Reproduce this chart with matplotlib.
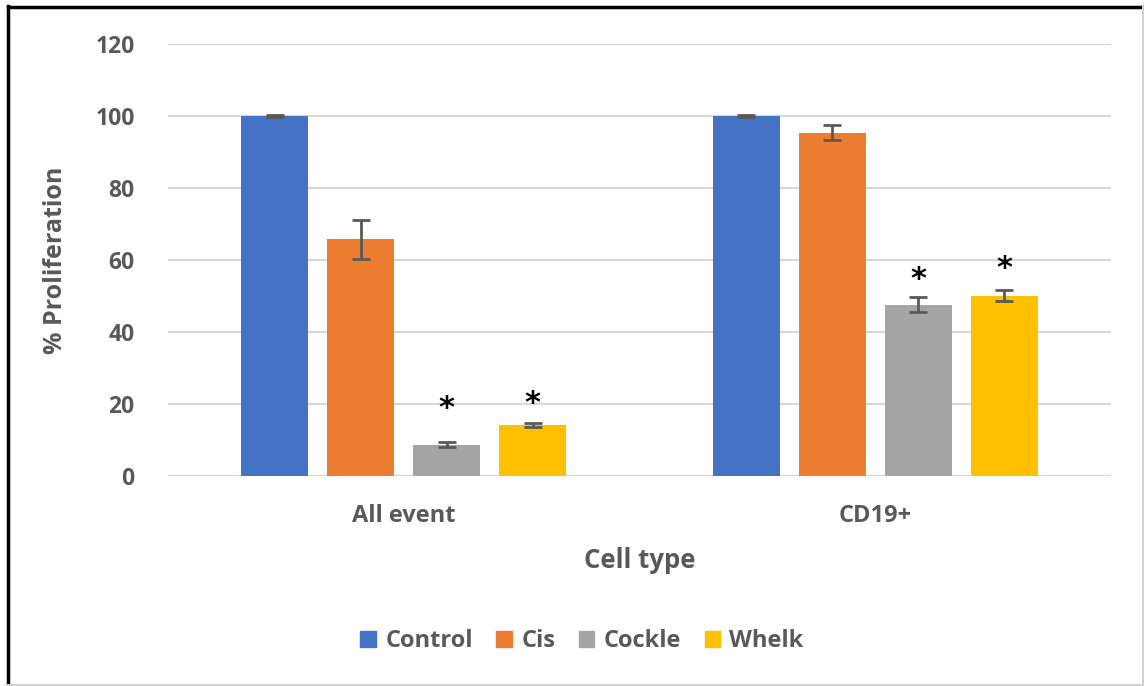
import numpy as np
import matplotlib
matplotlib.use("Agg")
import matplotlib.pyplot as plt
from matplotlib.patches import Rectangle
from matplotlib.lines import Line2D

plt.rcParams['font.family'] = ['Open Sans', 'DejaVu Sans']

cell_types = ["All event", "CD19+"]
treatments = ["Control", "Cis", "Cockle", "Whelk"]
colors = ["#4472C4", "#ED7D31", "#A5A5A5", "#FFC000"]

proliferation = {
    "Control": [100.0, 100.0],
    "Cis": [65.7, 95.4],
    "Cockle": [8.7, 47.6],
    "Whelk": [14.2, 50.1],
}
errors = {
    "Control": [0.3, 0.2],
    "Cis": [5.4, 2.2],
    "Cockle": [0.7, 2.1],
    "Whelk": [0.6, 1.5],
}
# significance markers: (treatment, cell type index, height)
stars = [("Cockle", 0, 20.5), ("Whelk", 0, 22.0),
         ("Cockle", 1, 56.5), ("Whelk", 1, 59.5)]
yticks = [0, 20, 40, 60, 80, 100, 120]

fig = plt.figure(figsize=(11.44, 6.86), dpi=100)
ax = fig.add_axes([168 / 1144, 1 - 476 / 686, (1111 - 168) / 1144, 432 / 686])

text_color = "#595959"
x = np.arange(len(cell_types))
bar_w = 0.142
step = 0.1825
offsets = (np.arange(len(treatments)) - 1.5) * step

for i, t in enumerate(treatments):
    ax.bar(x + offsets[i], proliferation[t], width=bar_w, color=colors[i],
           zorder=3, label=t)
    ax.errorbar(x + offsets[i], proliferation[t], yerr=errors[t], fmt="none",
                ecolor=text_color, elinewidth=2, capsize=6.5, capthick=2,
                zorder=4)

for t, gi, h in stars:
    ti = treatments.index(t)
    ax.text(x[gi] + offsets[ti], h - 1.8, "*", ha="center", va="center",
            fontsize=22, color="black", fontweight="bold", zorder=5,
            family="DejaVu Sans")

ax.set_xlim(-0.5, 1.5)
ax.set_ylim(0, 120)
ax.set_yticks(yticks)
ax.set_yticklabels([str(v) for v in yticks], fontsize=16.5, fontweight="bold",
                   color=text_color)
ax.set_xticks(x)
ax.set_xticklabels(cell_types, fontsize=17, fontweight="bold", color=text_color)
ax.tick_params(axis="both", length=0)
ax.tick_params(axis="y", pad=24)
ax.tick_params(axis="x", pad=20)
ax.yaxis.grid(True, color="#D9D9D9", linewidth=1.6, zorder=0)
ax.set_axisbelow(True)
for s in ax.spines.values():
    s.set_visible(False)
ax.axhline(0, color="#D9D9D9", linewidth=1.6, zorder=1)

ax.set_ylabel("% Proliferation", fontsize=18, fontweight="bold",
              color=text_color, labelpad=20)
ax.set_xlabel("Cell type", fontsize=18.5, fontweight="bold", color=text_color,
              labelpad=14)

handles = [Rectangle((0, 0), 1, 1, color=c) for c in colors]
fig.legend(handles, treatments, loc="center", bbox_to_anchor=(582 / 1144, 1 - 641 / 686),
           ncol=4, frameon=False, handlelength=0.65, handleheight=0.65,
           handletextpad=0.4, columnspacing=1.0, labelcolor=text_color,
           prop={"family": ["Open Sans", "DejaVu Sans"], "weight": "bold", "size": 17})

# chart frame
fig.add_artist(Line2D([8 / 1144, 8 / 1144], [0, 1 - 6 / 686], color="black",
                      linewidth=2.5, transform=fig.transFigure))
fig.add_artist(Line2D([8 / 1144, 1], [1 - 7 / 686, 1 - 7 / 686], color="black",
                      linewidth=2.5, transform=fig.transFigure))
fig.add_artist(Line2D([1143 / 1144, 1143 / 1144], [0, 1 - 7 / 686], color="#D0D0D0",
                      linewidth=1.5, transform=fig.transFigure))
fig.add_artist(Line2D([8 / 1144, 1], [1 / 686, 1 / 686], color="#D0D0D0",
                      linewidth=1.5, transform=fig.transFigure))

fig.savefig("out.png", dpi=100)
